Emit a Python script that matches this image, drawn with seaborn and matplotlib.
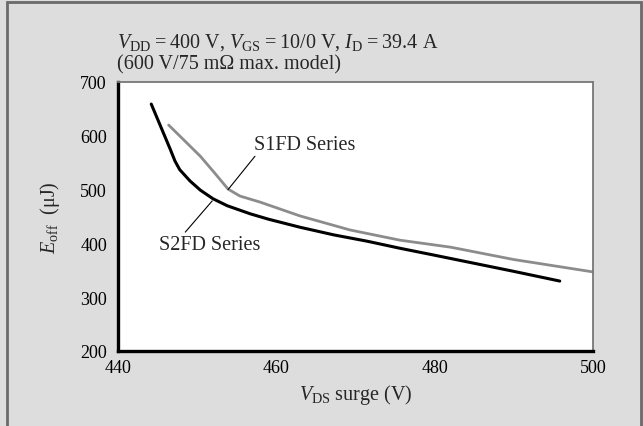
import matplotlib
matplotlib.use("Agg")
import matplotlib.pyplot as plt
import seaborn as sns
import pandas as pd
from matplotlib.patches import Rectangle

# Data
s2fd_vds = [444.2, 445.4, 446.6, 447.2, 447.8, 449.1, 450.4, 452.0, 453.8, 456.7, 459.0, 463.0, 467.2, 471.5, 475.6, 480.0, 485.0, 490.0, 495.8]
s2fd_eoff = [659, 617, 575, 553, 537, 516, 499, 483, 470, 455, 445, 430, 416, 404, 391, 378, 363, 348, 330]
s1fd_vds = [446.4, 448.4, 450.4, 452.2, 453.9, 455.4, 457.9, 463.0, 469.3, 475.6, 482.0, 490.0, 500.0]
s1fd_eoff = [620, 591, 562, 531, 501, 488, 477, 451, 425, 406, 393, 370, 347]
x_ticks = [440, 460, 480, 500]
y_ticks = [200, 300, 400, 500, 600, 700]

sns.set_style("white")
plt.rcParams['font.family'] = ['Liberation Serif', 'DejaVu Serif']
plt.rcParams['mathtext.fontset'] = 'custom'
plt.rcParams['mathtext.rm'] = 'Liberation Serif'
plt.rcParams['mathtext.it'] = 'Liberation Serif:italic'

df = pd.concat([
    pd.DataFrame({"vds": s2fd_vds, "eoff": s2fd_eoff, "series": "S2FD Series"}),
    pd.DataFrame({"vds": s1fd_vds, "eoff": s1fd_eoff, "series": "S1FD Series"}),
])

fig = plt.figure(figsize=(6.43, 4.27), dpi=100)
fig.patch.set_facecolor('#dcdddc')
fig.patches.append(Rectangle((7/643, -0.05), (641-7)/643, 1.05 - 2.5/427,
                             transform=fig.transFigure, fill=False,
                             edgecolor='#6a6a6a', linewidth=2.0, zorder=10))
ax = fig.add_axes([118/643, 1-352/427, (593-118)/643, (352-83)/427])
ax.set_facecolor('white')

sns.lineplot(data=df, x="vds", y="eoff", hue="series",
             palette={"S2FD Series": "#000000", "S1FD Series": "#8c8c8c"},
             hue_order=["S1FD Series", "S2FD Series"],
             linewidth=2.0, sort=False, estimator=None, legend=False, ax=ax)
for line in ax.lines:
    line.set_solid_joinstyle('round')
    if line.get_color() in ('#000000', 'k', (0, 0, 0, 1)):
        line.set_linewidth(2.2)

ax.set_xlim(440, 500)
ax.set_ylim(200, 700)
ax.set_xticks(x_ticks)
ax.set_yticks(y_ticks)
ax.tick_params(direction='in', length=6, width=1.2, labelsize=13, colors='black')
ax.tick_params(axis='y', pad=8)
ax.tick_params(axis='x', pad=6)

for side in ['left', 'bottom']:
    ax.spines[side].set_color('black')
    ax.spines[side].set_linewidth(2.4)
for side in ['top', 'right']:
    ax.spines[side].set_color('#777777')
    ax.spines[side].set_linewidth(1.3)
    ax.spines[side].set_visible(True)

ax.set_xlabel(r'$V_{\mathrm{DS}}$ surge (V)', fontsize=14.5, labelpad=4)
ax.set_ylabel(r'$E_{\mathrm{off}}$  (μJ)', fontsize=14.5, labelpad=13)

ax.text(457.2, 584, "S1FD Series", fontsize=14.5, va='center', ha='left')
ax.text(445.2, 398, "S2FD Series", fontsize=14.5, va='center', ha='left')
ax.annotate("", xy=(453.9, 500), xytext=(457.3, 562),
            arrowprops=dict(arrowstyle='-', lw=0.8, color='black',
                            shrinkA=0, shrinkB=0))
ax.annotate("", xy=(451.9, 479), xytext=(448.5, 421),
            arrowprops=dict(arrowstyle='-', lw=0.8, color='black',
                            shrinkA=0, shrinkB=0))

ts = "\u2009"
fig.text(117/643, 1-48/427,
         r'$V_{\mathrm{DD}}$' + ts + '=' + ts + '400 V, ' + r'$V_{\mathrm{GS}}$' + ts + '=' + ts +
         '10/0 V, ' + r'$I_{\mathrm{D}}$' + ts + '=' + ts + '39.4 A',
         fontsize=14.5, va='baseline', ha='left')
fig.text(117/643, 1-69/427, '(600 V/75 mΩ max. model)',
         fontsize=14.5, va='baseline', ha='left')

fig.savefig("out.png", dpi=100, facecolor=fig.get_facecolor())
